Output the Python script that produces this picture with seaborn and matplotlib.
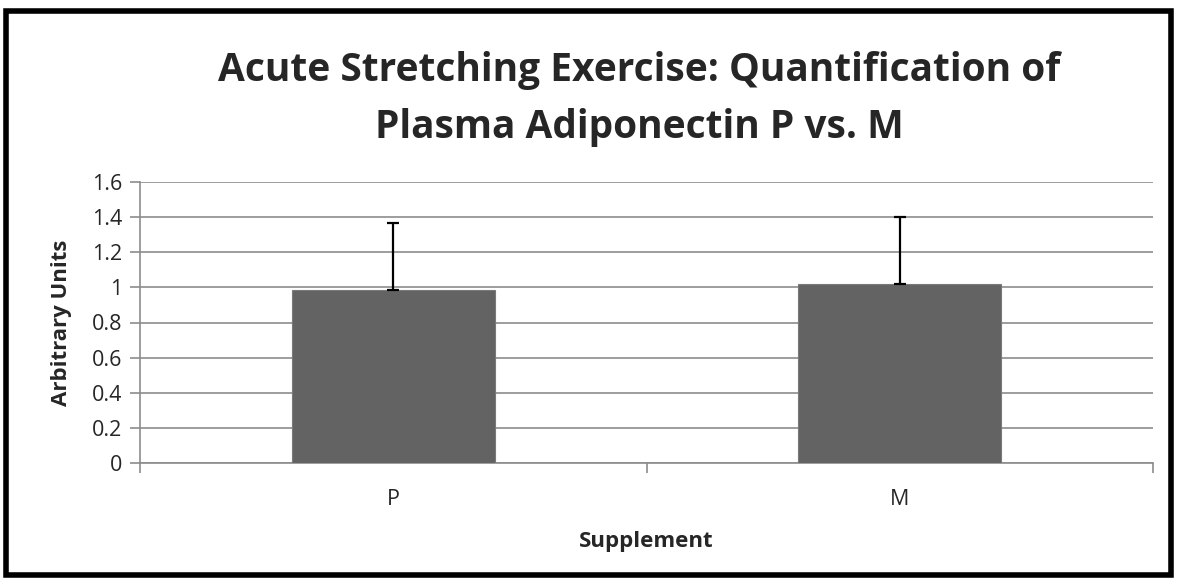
import matplotlib
matplotlib.use("Agg")
import matplotlib.pyplot as plt
import seaborn as sns
import pandas as pd
from matplotlib.patches import Rectangle

# values
supplements = ["P", "M"]
means = [0.985, 1.02]
errors_up = [0.38, 0.38]
y_ticks = [0, 0.2, 0.4, 0.6, 0.8, 1.0, 1.2, 1.4, 1.6]
y_tick_labels = ["0", "0.2", "0.4", "0.6", "0.8", "1", "1.2", "1.4", "1.6"]

df = pd.DataFrame({"Supplement": supplements, "Value": means})

sns.set_theme(style="white")
plt.rcParams["font.family"] = ["Open Sans", "DejaVu Sans"]

fig = plt.figure(figsize=(11.77, 5.83), dpi=100)
ax = fig.add_axes([140 / 1177, 1 - 463 / 583, (1153 - 140) / 1177, (463 - 182) / 583])

grid_c = "#8c8c8c"
sns.barplot(data=df, x="Supplement", y="Value", color="#636363", width=0.4,
            saturation=1, edgecolor="#7a7a7a", linewidth=0.8, ax=ax, zorder=3)
ax.errorbar(range(len(means)), means, yerr=[[0] * len(means), errors_up],
            fmt="none", ecolor="black", elinewidth=1.6, capsize=4.5,
            capthick=1.6, zorder=4)

ax.set_xlim(-0.5, 1.5)
ax.set_ylim(0, 1.6)
ax.set_yticks(y_ticks)
ax.set_yticklabels(y_tick_labels)
ax.yaxis.grid(True, color=grid_c, linewidth=1.2, zorder=0)
ax.set_axisbelow(True)

for s in ["top", "right"]:
    ax.spines[s].set_visible(False)
for s in ["left", "bottom"]:
    ax.spines[s].set_color(grid_c)
    ax.spines[s].set_linewidth(1.2)

ax.tick_params(axis="y", length=7, width=1.2, color=grid_c, pad=6,
               labelsize=15.5, left=True, direction="out")
ax.tick_params(axis="x", length=0, pad=19, labelsize=15.5)
ax.set_xticks([-0.5, 0.5, 1.5], minor=True)
ax.tick_params(axis="x", which="minor", length=7, width=1.2, color=grid_c,
               bottom=True, direction="out")

ax.set_xlabel("Supplement", fontsize=16, fontweight="bold", labelpad=15)
ax.set_ylabel("Arbitrary Units", fontsize=16, fontweight="bold", labelpad=14)

fig.text(0.543, 1 - 99 / 583, "Acute Stretching Exercise: Quantification of\nPlasma Adiponectin P vs. M",
         ha="center", va="center", fontsize=28, fontweight="bold",
         linespacing=1.62)

fig.patches.append(Rectangle((6 / 1177, 8 / 583), 1 - 12 / 1177, 1 - 19 / 583,
                             transform=fig.transFigure, fill=False,
                             edgecolor="black", linewidth=4))

fig.savefig("out.png", dpi=100)
